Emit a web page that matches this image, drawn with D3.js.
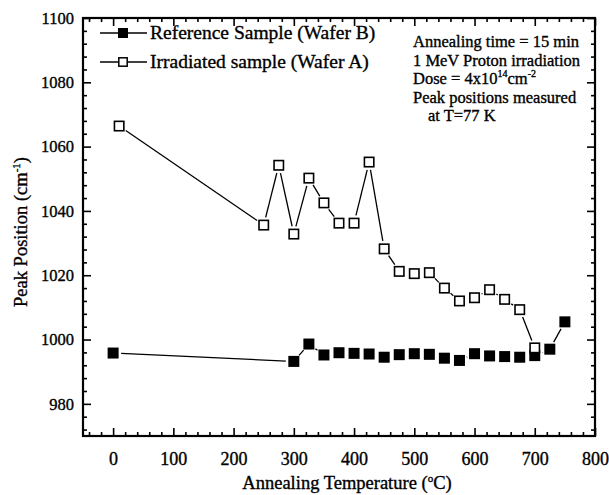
<!DOCTYPE html>
<html>
<head>
<meta charset="utf-8">
<script src="https://cdn.jsdelivr.net/npm/d3@7"></script>
<style>
  html, body { margin: 0; padding: 0; background: #fff; }
  svg { display: block; font-family: "Liberation Serif", "Times New Roman", serif; }
  svg text { stroke: #000; stroke-width: 0.35px; }
</style>
</head>
<body>
<svg id="chart" width="609" height="495"></svg>
<script>
// Annealing temperature (°C) and Raman peak position (cm^-1)
const refTemps = [0, 300, 325, 350, 375, 400, 425, 450, 475, 500, 525, 550, 575, 600, 625, 650, 675, 700, 725, 750];
const refPeaks = [995.8, 993.2, 998.6, 995.2, 995.9, 995.7, 995.5, 994.5, 995.3, 995.6, 995.4, 994.2, 993.5, 995.6, 994.9, 994.7, 994.5, 995.0, 997.0, 1005.5];

const irrTemps = [10, 250, 275, 300, 325, 350, 375, 400, 425, 450, 475, 500, 525, 550, 575, 600, 625, 650, 675, 700];
const irrPeaks = [1066.4, 1035.6, 1054.2, 1032.8, 1050.2, 1042.5, 1036.2, 1036.2, 1055.2, 1028.2, 1021.2, 1020.5, 1020.8, 1016.0, 1012.0, 1013.0, 1015.5, 1012.5, 1009.3, 997.4];

const xTickValues = [0, 100, 200, 300, 400, 500, 600, 700, 800];
const yTickValues = [980, 1000, 1020, 1040, 1060, 1080, 1100];

const legendLabels = ["Reference Sample (Wafer B)", "Irradiated sample (Wafer A)"];

const svg = d3.select("#chart");
const plotL = 83, plotR = 595, plotT = 18, plotB = 436;

const x = d3.scaleLinear().domain([-50, 800]).range([plotL, plotR]);
const y = d3.scaleLinear().domain([970, 1100]).range([plotB, plotT]);

const xMinor = d3.range(-40, 800, 20).filter(v => v % 100 !== 0);
const yMinor = d3.range(972, 1100, 4).filter(v => v % 20 !== 0);

function styleAxis(g) {
  g.select(".domain").remove();
  g.selectAll(".tick line").attr("stroke", "#000").attr("stroke-width", 1.6);
  g.selectAll("text").attr("fill", "#000");
}

// bottom axis (ticks point inward)
svg.append("g").attr("transform", `translate(0,${plotB})`)
  .call(d3.axisBottom(x).tickValues(xTickValues).tickSize(-8).tickPadding(16).tickFormat(d3.format("d")))
  .call(styleAxis)
  .call(g => g.selectAll("text").attr("font-size", 18).attr("font-family", "Liberation Serif"));
svg.append("g").attr("transform", `translate(0,${plotB})`)
  .call(d3.axisBottom(x).tickValues(xMinor).tickSize(-4).tickFormat(""))
  .call(styleAxis);

// top axis
svg.append("g").attr("transform", `translate(0,${plotT})`)
  .call(d3.axisTop(x).tickValues(xTickValues).tickSize(-8).tickFormat(""))
  .call(styleAxis);
svg.append("g").attr("transform", `translate(0,${plotT})`)
  .call(d3.axisTop(x).tickValues(xMinor).tickSize(-4).tickFormat(""))
  .call(styleAxis);

// left axis
svg.append("g").attr("transform", `translate(${plotL},0)`)
  .call(d3.axisLeft(y).tickValues(yTickValues).tickSize(-8).tickPadding(9).tickFormat(d3.format("d")))
  .call(styleAxis)
  .call(g => g.selectAll("text").attr("font-size", 16.5).attr("font-family", "Liberation Serif"));
svg.append("g").attr("transform", `translate(${plotL},0)`)
  .call(d3.axisLeft(y).tickValues(yMinor).tickSize(-4).tickFormat(""))
  .call(styleAxis);

// right axis
svg.append("g").attr("transform", `translate(${plotR},0)`)
  .call(d3.axisRight(y).tickValues(yTickValues).tickSize(-8).tickFormat(""))
  .call(styleAxis);
svg.append("g").attr("transform", `translate(${plotR},0)`)
  .call(d3.axisRight(y).tickValues(yMinor).tickSize(-4).tickFormat(""))
  .call(styleAxis);

// frame
svg.append("rect")
  .attr("x", plotL).attr("y", plotT)
  .attr("width", plotR - plotL).attr("height", plotB - plotT)
  .attr("fill", "none").attr("stroke", "#000").attr("stroke-width", 2.2);

// connecting lines, trimmed so they stop short of the markers
const gap = 8;
function drawSegments(temps, peaks) {
  const pts = temps.map((t, i) => [x(t), y(peaks[i])]);
  const segs = d3.pairs(pts).map(([a, b]) => {
    const dx = b[0] - a[0], dy = b[1] - a[1];
    const len = Math.hypot(dx, dy);
    if (len <= 2 * gap) return null;
    const ux = dx / len, uy = dy / len;
    return [a[0] + ux * gap, a[1] + uy * gap, b[0] - ux * gap, b[1] - uy * gap];
  }).filter(Boolean);
  svg.append("g").selectAll("line").data(segs).join("line")
    .attr("x1", d => d[0]).attr("y1", d => d[1])
    .attr("x2", d => d[2]).attr("y2", d => d[3])
    .attr("stroke", "#000").attr("stroke-width", 1.3);
}
drawSegments(refTemps, refPeaks);
drawSegments(irrTemps, irrPeaks);

// markers
const ms = 11;
svg.append("g").selectAll("rect").data(refTemps).join("rect")
  .attr("x", (d) => x(d) - ms / 2)
  .attr("y", (d, i) => y(refPeaks[i]) - ms / 2)
  .attr("width", ms).attr("height", ms)
  .attr("fill", "#000");
svg.append("g").selectAll("rect").data(irrTemps).join("rect")
  .attr("x", (d) => x(d) - (ms - 1.6) / 2)
  .attr("y", (d, i) => y(irrPeaks[i]) - (ms - 1.6) / 2)
  .attr("width", ms - 1.6).attr("height", ms - 1.6)
  .attr("fill", "#fff").attr("stroke", "#000").attr("stroke-width", 1.6);

// legend
const legend = svg.append("g");
[0, 1].forEach(i => {
  const ly = 33 + i * 29;
  legend.append("line").attr("x1", 100).attr("x2", 147).attr("y1", ly).attr("y2", ly)
    .attr("stroke", "#000").attr("stroke-width", 1.3);
  if (i === 0) {
    legend.append("rect").attr("x", 123 - 5).attr("y", ly - 5).attr("width", 10).attr("height", 10).attr("fill", "#000");
  } else {
    legend.append("rect").attr("x", 123 - 4.2).attr("y", ly - 4.2).attr("width", 8.4).attr("height", 8.4)
      .attr("fill", "#fff").attr("stroke", "#000").attr("stroke-width", 1.5);
  }
  legend.append("text").attr("x", 150).attr("y", ly + 6)
    .attr("font-size", 19.5).attr("fill", "#000").text(legendLabels[i]);
});

// annotation block
const note = svg.append("g").attr("font-size", 16.5).attr("fill", "#000");
note.append("text").attr("x", 413).attr("y", 47).text("Annealing time = 15 min");
note.append("text").attr("x", 413).attr("y", 65.5).text("1 MeV Proton irradiation");
const dose = note.append("text").attr("x", 413).attr("y", 84);
dose.append("tspan").text("Dose = 4x10");
dose.append("tspan").attr("font-size", 10).attr("dy", -7).text("14");
dose.append("tspan").attr("dy", 7).text("cm");
dose.append("tspan").attr("font-size", 10).attr("dy", -7).text("-2");
note.append("text").attr("x", 413).attr("y", 102.5).text("Peak positions measured");
note.append("text").attr("x", 428).attr("y", 121).text("at T=77 K");

// axis titles
const xt = svg.append("text").attr("x", 347).attr("y", 489).attr("text-anchor", "middle")
  .attr("font-size", 18.5).attr("fill", "#000");
xt.append("tspan").text("Annealing Temperature (");
xt.append("tspan").attr("font-size", 11).attr("dy", -7).text("o");
xt.append("tspan").attr("dy", 7).text("C)");

const yt = svg.append("text").attr("transform", "translate(27,232) rotate(-90)")
  .attr("text-anchor", "middle").attr("font-size", 18.5).attr("fill", "#000");
yt.append("tspan").text("Peak Position (cm");
yt.append("tspan").attr("font-size", 11).attr("dy", -7).text("-1");
yt.append("tspan").attr("dy", 7).text(")");
</script>
</body>
</html>
